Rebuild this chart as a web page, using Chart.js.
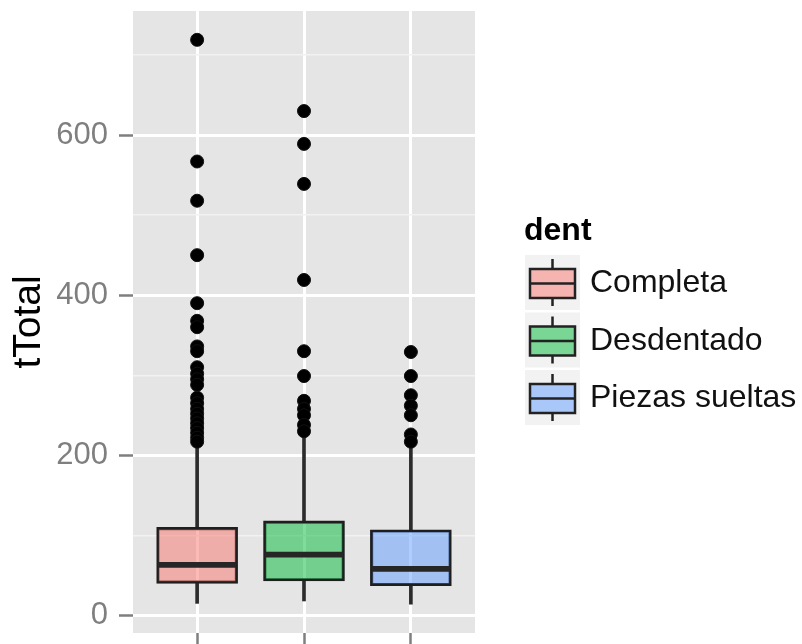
<!DOCTYPE html>
<html>
<head>
<meta charset="utf-8">
<script src="https://cdn.jsdelivr.net/npm/chart.js@4"></script>
<style>
    body{ margin:0; background:#ffffff; }
    canvas{ display:block; }
</style>
</head>
<body>
<canvas id="graficoBox" width="802" height="644"></canvas>
<script>

// =====================================
// DADOS
// =====================================

const categorias = ["Completa", "Desdentado", "Piezas sueltas"];

const posicoes = [1, 2, 3];

const bigodeMin = [15, 18, 14];
const q1 = [40, 43, 37];
const mediana = [63, 76, 58];
const q3 = [110, 118, 107];
const bigodeMax = [212, 225, 210];

const outliersCompleta = [
    719, 567, 518, 450, 390, 368, 360, 336, 330,
    310, 302, 295, 288, 272, 265, 258, 252, 246,
    240, 234, 228, 222, 217
];
const outliersDesdentado = [
    630, 589, 539, 419, 330, 299, 268, 258, 250, 238, 230
];
const outliersPiezas = [
    329, 299, 275, 262, 250, 226, 217
];

const yTicks = [0, 200, 400, 600];

const cores = [
    "rgba(248,118,109,0.5)",
    "rgba(0,186,56,0.5)",
    "rgba(97,156,255,0.5)"
];


// =====================================
// PONTOS
// =====================================

const todosOutliers = [outliersCompleta, outliersDesdentado, outliersPiezas];

const pontos = [];

todosOutliers.forEach((lista, i) => {
    lista.forEach(v => {
        pontos.push({ x: posicoes[i], y: v });
    });
});

const FONTE = "'Liberation Sans', Arial, sans-serif";


// =====================================
// PAINEL
// =====================================

const fundoPainel = {
    id: "fundoPainel",
    beforeDraw(chart){
        const a = chart.chartArea;
        const ctx = chart.ctx;
        ctx.save();
        ctx.fillStyle = "#e5e5e5";
        ctx.fillRect(a.left, a.top, a.right - a.left, a.bottom - a.top);
        ctx.restore();
    }
};


// =====================================
// LEGENDA
// =====================================

const legendaBox = {
    id: "legendaBox",
    afterDraw(chart){
        const ctx = chart.ctx;
        const x0 = chart.chartArea.right + 50;
        const tamanho = 55;
        const passo = 57.5;
        const topo = 255;

        ctx.save();

        ctx.fillStyle = "#000000";
        ctx.font = "bold 32px " + FONTE;
        ctx.textAlign = "left";
        ctx.textBaseline = "alphabetic";
        ctx.fillText("dent", x0 - 1, 240);

        categorias.forEach((nome, i) => {
            const ky = topo + i * passo;
            const cx = x0 + tamanho / 2;

            ctx.fillStyle = "#f2f2f2";
            ctx.fillRect(x0, ky, tamanho, tamanho);

            ctx.strokeStyle = "#222222";
            ctx.lineWidth = 2.5;
            ctx.beginPath();
            ctx.moveTo(cx, ky + 4);
            ctx.lineTo(cx, ky + 14);
            ctx.moveTo(cx, ky + 43);
            ctx.lineTo(cx, ky + 51);
            ctx.stroke();

            ctx.fillStyle = cores[i];
            ctx.fillRect(x0 + 5, ky + 14, 45, 29);
            ctx.strokeRect(x0 + 5, ky + 14, 45, 29);

            ctx.beginPath();
            ctx.moveTo(x0 + 5, ky + 28.5);
            ctx.lineTo(x0 + 50, ky + 28.5);
            ctx.stroke();

            ctx.fillStyle = "#111111";
            ctx.font = "32px " + FONTE;
            ctx.textBaseline = "middle";
            ctx.fillText(nome, x0 + 65, ky + tamanho / 2 + 1);
        });

        ctx.restore();
    }
};


// =====================================
// GRAFICO
// =====================================

const barraComum = {
    type: "bar",
    grouped: false,
    borderSkipped: false
};

new Chart(document.getElementById("graficoBox"), {

    type: "bar",

    data: {
        datasets: [
            {
                type: "scatter",
                data: pontos,
                backgroundColor: "#000000",
                borderColor: "#111111",
                borderWidth: 1,
                pointRadius: 6.5,
                pointHoverRadius: 6.5
            },
            Object.assign({}, barraComum, {
                data: posicoes.map((p, i) => ({ x: p, y: [mediana[i] - 3.2, mediana[i] + 3.2] })),
                backgroundColor: "#262626",
                borderWidth: 0,
                barThickness: 78
            }),
            Object.assign({}, barraComum, {
                data: posicoes.map((p, i) => ({ x: p, y: [q1[i], q3[i]] })),
                backgroundColor: cores,
                borderColor: "#1e1e1e",
                borderWidth: 2.5,
                barThickness: 81
            }),
            Object.assign({}, barraComum, {
                data: posicoes.map((p, i) => ({ x: p, y: [bigodeMin[i], q1[i]] })),
                backgroundColor: "#2b2b2b",
                borderWidth: 0,
                barThickness: 3
            }),
            Object.assign({}, barraComum, {
                data: posicoes.map((p, i) => ({ x: p, y: [q3[i], bigodeMax[i]] })),
                backgroundColor: "#2b2b2b",
                borderWidth: 0,
                barThickness: 3
            })
        ]
    },

    options: {
        responsive: false,
        animation: false,
        devicePixelRatio: 1,
        layout: {
            padding: { top: 11, right: 327, bottom: 0, left: 0 }
        },
        plugins: {
            legend: { display: false },
            tooltip: { enabled: false }
        },
        scales: {
            x: {
                type: "linear",
                min: 0.4,
                max: 3.6,
                offset: false,
                border: { display: false },
                afterFit(scale){
                    scale.paddingLeft = 0;
                    scale.paddingRight = 0;
                },
                ticks: {
                    display: false,
                    stepSize: 1,
                    includeBounds: false
                },
                grid: {
                    offset: false,
                    color: "#ffffff",
                    lineWidth: 3,
                    tickColor: "#7f7f7f",
                    tickWidth: 2.5,
                    tickLength: 11
                }
            },
            y: {
                min: -22,
                max: 755,
                border: { display: false },
                afterFit(scale){
                    scale.width = 133;
                    scale.paddingTop = 0;
                    scale.paddingBottom = 0;
                },
                title: {
                    display: true,
                    text: "tTotal",
                    color: "#000000",
                    font: { family: FONTE, size: 39 },
                    padding: { top: 6, bottom: 0 }
                },
                ticks: {
                    stepSize: 100,
                    includeBounds: false,
                    color: "#7f7f7f",
                    padding: 11,
                    font: { family: FONTE, size: 31 },
                    callback: v => yTicks.includes(v) ? v : ""
                },
                grid: {
                    color: c => yTicks.includes(c.tick.value) ? "#ffffff" : "#f2f2f2",
                    lineWidth: c => yTicks.includes(c.tick.value) ? 3 : 1.4,
                    tickColor: c => yTicks.includes(c.tick.value) ? "#7f7f7f" : "rgba(0,0,0,0)",
                    tickWidth: 2.5,
                    tickLength: 14
                }
            }
        }
    },

    plugins: [fundoPainel, legendaBox]

});

</script>
</body>
</html>
